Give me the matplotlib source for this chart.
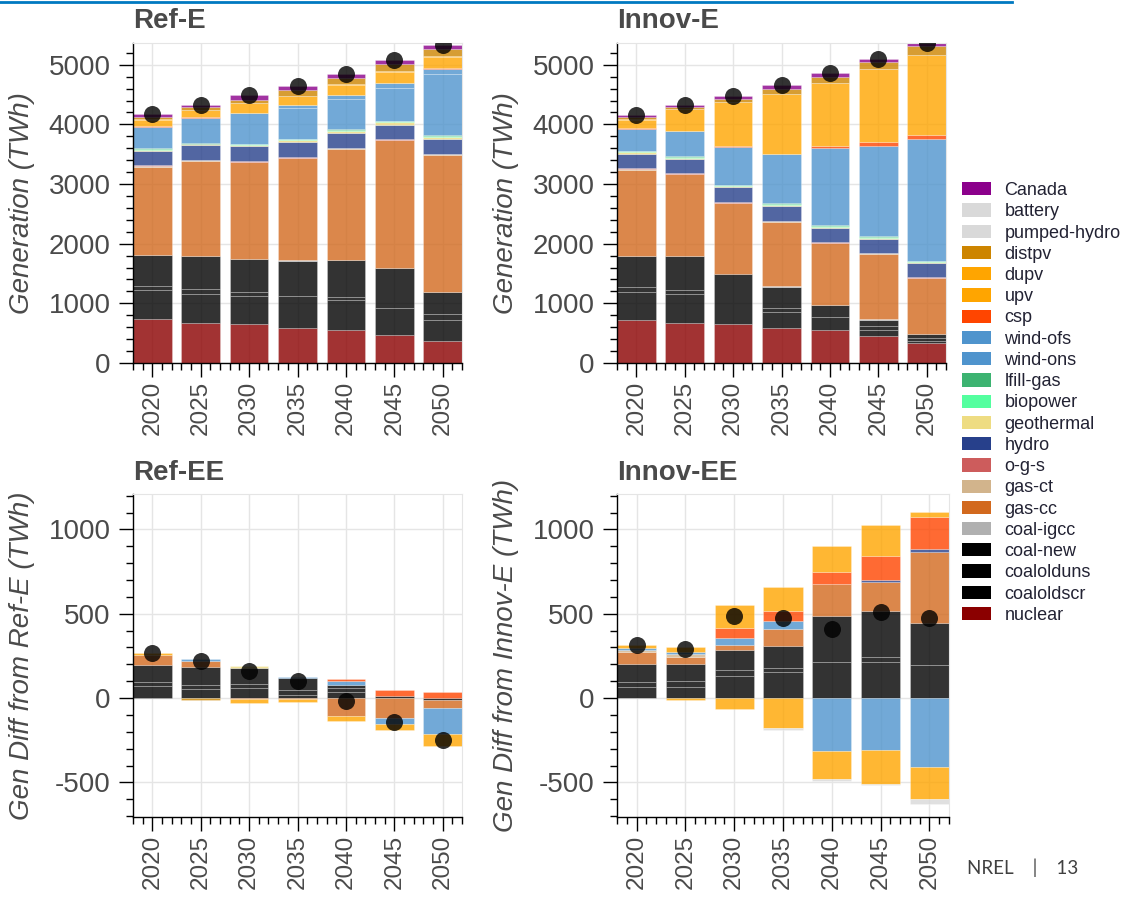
import numpy as np
import matplotlib
matplotlib.use("Agg")
import matplotlib.pyplot as plt
from matplotlib.colors import to_rgba
from matplotlib.lines import Line2D
from matplotlib.patches import Patch
from matplotlib.ticker import MultipleLocator

plt.rcParams["font.family"] = ["Liberation Sans", "DejaVu Sans"]
plt.rcParams["axes.unicode_minus"] = False

years = np.array([2020, 2025, 2030, 2035, 2040, 2045, 2050])

# stacking order, bottom to top (legend shows it reversed)
techs = ["nuclear", "coaloldscr", "coalolduns", "coal-new", "coal-igcc", "gas-cc",
         "gas-ct", "o-g-s", "hydro", "geothermal", "biopower", "lfill-gas",
         "wind-ons", "wind-ofs", "csp", "upv", "dupv", "distpv", "pumped-hydro",
         "battery", "Canada"]

colors = {
    "nuclear": "#8B0000", "coaloldscr": "#000000", "coalolduns": "#000000",
    "coal-new": "#000000", "coal-igcc": "#B0B0B0", "gas-cc": "#D2691E",
    "gas-ct": "#D2B48C", "o-g-s": "#CD5C5C", "hydro": "#27408B",
    "geothermal": "#EEDC82", "biopower": "#54FF9F", "lfill-gas": "#3CB371",
    "wind-ons": "#4F94CD", "wind-ofs": "#4F94CD", "csp": "#FF4500",
    "upv": "#FFA500", "dupv": "#FFA500", "distpv": "#CD8500",
    "pumped-hydro": "#D9D9D9", "battery": "#D9D9D9", "Canada": "#8B008B",
}

# generation, TWh (Ref-E)
ref_e = {
    "nuclear":    [735, 677, 661, 594, 560, 476, 364],
    "coaloldscr": [485, 488, 459, 537, 493, 453, 353],
    "coalolduns": [68, 78, 67, 0, 56, 0, 112],
    "coal-new":   [515, 549, 555, 583, 611, 662, 364],
    "coal-igcc":  [5, 5, 5, 5, 5, 5, 5],
    "gas-cc":     [1484, 1590, 1618, 1713, 1864, 2139, 2290],
    "gas-ct":     [10, 10, 10, 10, 10, 10, 10],
    "o-g-s":      [10, 10, 10, 10, 10, 10, 10],
    "hydro":      [243, 244, 260, 255, 254, 243, 249],
    "geothermal": [20, 18, 16, 30, 30, 40, 40],
    "biopower":   [15, 10, 8, 16, 16, 17, 17],
    "lfill-gas":  [10, 5, 4, 10, 10, 10, 10],
    "wind-ons":   [364, 431, 521, 510, 511, 547, 1025],
    "wind-ofs":   [0, 0, 0, 50, 60, 80, 84],
    "csp":        [5, 5, 5, 5, 8, 10, 12],
    "upv":        [113, 119, 152, 146, 167, 181, 190],
    "dupv":       [5, 5, 5, 5, 5, 5, 5],
    "distpv":     [45, 45, 56, 90, 106, 129, 123],
    "Canada":     [39, 39, 73, 67, 73, 56, 62],
}

# generation, TWh (Innov-E)
innov_e = {
    "nuclear":    [719, 669, 646, 579, 545, 455, 337],
    "coaloldscr": [478, 483, 854, 281, 225, 90, 28],
    "coalolduns": [78, 78, 0, 67, 0, 67, 56],
    "coal-new":   [512, 557, 0, 355, 197, 113, 63],
    "coal-igcc":  [5, 5, 0, 5, 5, 5, 5],
    "gas-cc":     [1450, 1371, 1180, 1078, 1034, 1096, 932],
    "gas-ct":     [10, 10, 10, 10, 10, 10, 10],
    "o-g-s":      [10, 10, 10, 10, 10, 10, 10],
    "hydro":      [249, 238, 244, 250, 238, 238, 228],
    "geothermal": [20, 20, 20, 20, 20, 20, 20],
    "biopower":   [15, 15, 15, 15, 15, 15, 14],
    "lfill-gas":  [10, 10, 10, 10, 10, 10, 10],
    "wind-ons":   [371, 427, 635, 820, 1292, 1517, 2045],
    "csp":        [5, 5, 8, 10, 45, 56, 57],
    "upv":        [147, 361, 739, 996, 1051, 1220, 1349],
    "dupv":       [5, 5, 5, 5, 5, 5, 5],
    "distpv":     [34, 23, 45, 90, 101, 112, 140],
    "Canada":     [45, 44, 57, 62, 62, 57, 56],
}

# difference vs Ref-E, TWh (Ref-EE)
ref_ee = {
    "coaloldscr": [69, 53, 57, 20, 38, 12, -14],
    "coalolduns": [26, 26, 26, 25, 21, 0, 0],
    "coal-new":   [103, 105, 95, 72, 18, 0, 0],
    "gas-cc":     [59, 33, -6, -4, -105, -119, -45],
    "geothermal": [0, 0, 14, 0, 0, 0, 0],
    "wind-ons":   [0, 14, 0, 8, 26, -33, -152],
    "csp":        [0, 0, 0, 0, 12, 34, 34],
    "upv":        [10, 0, -24, -18, -29, -36, -72],
    "distpv":     [0, -10, 0, 0, 0, 0, 0],
}

# difference vs Innov-E, TWh (Innov-EE)
innov_ee = {
    "coaloldscr": [65, 65, 132, 152, 215, 215, 197],
    "coalolduns": [29, 39, 36, 25, 0, 27, 0],
    "coal-new":   [107, 97, 117, 134, 273, 272, 246],
    "gas-cc":     [75, 45, 28, 97, 191, 173, 423],
    "gas-ct":     [9, 16, 0, 0, 0, 0, 0],
    "hydro":      [0, 0, 0, 0, 0, 12, 16],
    "wind-ons":   [12, 14, 41, 51, -311, -305, -407],
    "csp":        [0, 0, 59, 59, 67, 145, 191],
    "upv":        [20, 28, 140, 141, 156, 180, 33],
    "dupv":       [0, -14, -65, -175, -171, -203, -189],
    "battery":    [-2, 0, 0, -12, -8, -7, -34],
}

GRAY = "#4a4a4a"


def draw_panel(ax, data, title, ylabel, ylim, major, minor, title_pad):
    pos_base = np.zeros(len(years))
    neg_base = np.zeros(len(years))
    for tech in techs:
        vals = np.array(data.get(tech, [0] * len(years)), dtype=float)
        face = to_rgba(colors[tech], 0.8)
        pos = np.clip(vals, 0, None)
        neg = np.clip(vals, None, 0)
        for part, base in ((pos, pos_base), (neg, neg_base)):
            m = part != 0
            if m.any():
                ax.bar(years[m], part[m], width=4, bottom=base[m], color=face,
                       edgecolor=(1, 1, 1, 0.25), linewidth=0.7, zorder=2)
        pos_base += pos
        neg_base += neg
    net = pos_base + neg_base
    ax.scatter(years, net, s=150, color="black", alpha=0.8, zorder=3, linewidths=0)

    ax.set_xlim(2018, 2052)
    ax.set_ylim(*ylim)
    ax.set_xticks(years)
    ax.set_xticklabels([str(y) for y in years])
    ax.xaxis.set_minor_locator(MultipleLocator(1))
    ax.yaxis.set_major_locator(MultipleLocator(major))
    ax.yaxis.set_minor_locator(MultipleLocator(minor))
    ax.tick_params(axis="both", which="major", length=10, width=1, color="black",
                   labelcolor=GRAY, pad=6)
    ax.tick_params(axis="both", which="minor", length=5, width=1, color="black")
    ax.tick_params(axis="y", labelsize=20)
    ax.tick_params(axis="x", labelsize=17.5, labelrotation=90, pad=3)
    ax.grid(True, which="major", color="#e5e5e5", linewidth=1, zorder=0)
    ax.set_axisbelow(True)
    for s in ("top", "right"):
        ax.spines[s].set_color("#e5e5e5")
    for s in ("left", "bottom"):
        ax.spines[s].set_color("black")
        ax.spines[s].set_linewidth(1)
    ax.set_ylabel(ylabel, fontsize=20, style="italic", color=GRAY, labelpad=10)
    ax.set_title(title, loc="left", fontsize=20, fontweight="bold", color=GRAY,
                 pad=title_pad)


fig = plt.figure(figsize=(11.26, 9), dpi=100)
W, H = 1126.0, 900.0


def px_axes(x0, y0, x1, y1):
    return fig.add_axes([x0 / W, 1 - y1 / H, (x1 - x0) / W, (y1 - y0) / H])


ax1 = px_axes(133, 43, 462, 363)
ax2 = px_axes(617, 43, 946, 363)
ax3 = px_axes(133, 494, 462, 817)
ax4 = px_axes(617, 494, 949, 817)

draw_panel(ax1, ref_e, "Ref-E", "Generation (TWh)", (0, 5365), 1000, 200, 11)
draw_panel(ax2, innov_e, "Innov-E", "Generation (TWh)", (0, 5365), 1000, 200, 11)
draw_panel(ax3, ref_ee, "Ref-EE", "Gen Diff from Ref-E (TWh)", (-705, 1210), 500, 100, 10)
draw_panel(ax4, innov_ee, "Innov-EE", "Gen Diff from Innov-E (TWh)", (-705, 1210), 500, 100, 10)

handles = [Patch(facecolor=colors[t], edgecolor="none", label=t) for t in techs[::-1]]
fig.legend(handles=handles, loc="upper left", bbox_to_anchor=(953 / W, 1 - 173 / H),
           frameon=False, fontsize=13, handlelength=1.6, handleheight=0.75,
           handletextpad=0.75, labelspacing=0.235, borderpad=0, labelcolor="#222233")

# slide decorations
fig.add_artist(Line2D([0, 1012 / W], [1 - 1.5 / H, 1 - 1.5 / H], color="#0079C1", linewidth=2))
fig.text(967 / W, 1 - 868 / H, "NREL    |    13", fontsize=13.5, color="#404040",
         family=["Lato", "DejaVu Sans"], va="center")

fig.savefig("out.png", dpi=100)
